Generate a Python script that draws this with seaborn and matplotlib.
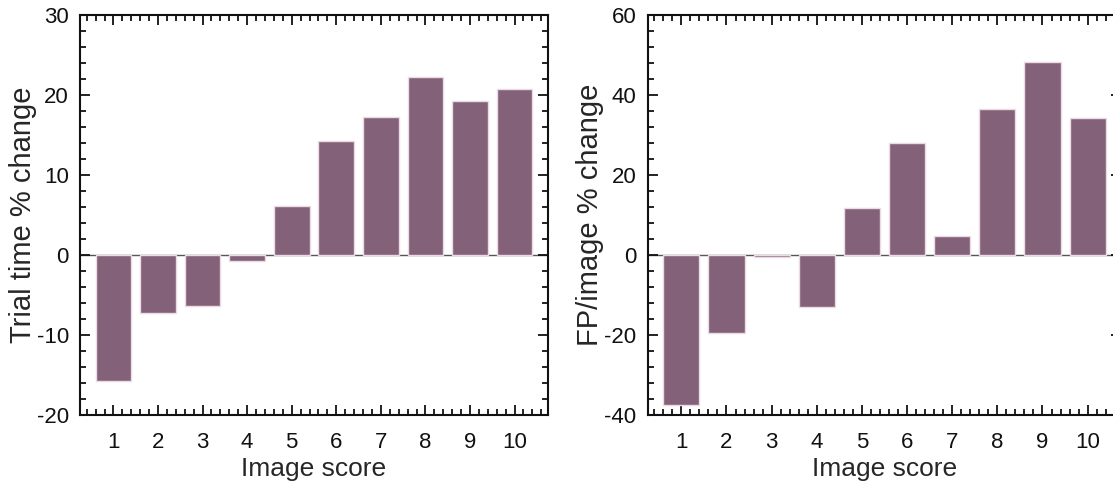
import numpy as np
import pandas as pd
import seaborn as sns
import matplotlib.pyplot as plt
from matplotlib.ticker import MultipleLocator

# image score categories and % change per panel
scores = [1, 2, 3, 4, 5, 6, 7, 8, 9, 10]
trial_time_change = [-15.8, -7.2, -6.4, -0.8, 6.1, 14.2, 17.3, 22.2, 19.2, 20.8]
fp_change = [-37.6, -19.6, -0.5, -13.0, 11.7, 28.1, 4.7, 36.6, 48.3, 34.2]

df = pd.DataFrame({"score": scores, "trial": trial_time_change, "fp": fp_change})

sns.set_style("ticks")
plt.rcParams['font.family'] = ['Liberation Sans', 'DejaVu Sans']
plt.rcParams['axes.unicode_minus'] = False

bar_color = "#836178"

fig = plt.figure(figsize=(11.13, 4.86), dpi=100)
ax1 = fig.add_axes([80 / 1113, 71 / 486, 468 / 1113, 400 / 486])
ax2 = fig.add_axes([647.5 / 1113, 71 / 486, 474 / 1113, 400 / 486])

panels = [
    (ax1, "trial", "Trial time % change", (-20, 30), 10, 2),
    (ax2, "fp", "FP/image % change", (-40, 60), 20, 4),
]

for ax, col, ylabel, ylim, major, minor in panels:
    sns.barplot(data=df, x="score", y=col, native_scale=True, color=bar_color,
                saturation=1, edgecolor="#eadbe4", linewidth=1, ax=ax)
    ax.axhline(0, color="#555555", lw=1, zorder=0.5)
    ax.set_xlim(0.25, 10.75)
    ax.set_ylim(*ylim)
    ax.set_xticks(scores)
    ax.xaxis.set_minor_locator(MultipleLocator(0.2))
    ax.yaxis.set_major_locator(MultipleLocator(major))
    ax.yaxis.set_minor_locator(MultipleLocator(minor))
    ax.tick_params(which="both", direction="in", top=True, right=True,
                   width=1.3, labelsize=16, colors="#111111")
    ax.tick_params(which="major", length=7)
    ax.tick_params(which="minor", length=4)
    ax.tick_params(axis="x", which="major", pad=12)
    ax.tick_params(axis="y", which="major", pad=8)
    for s in ax.spines.values():
        s.set_linewidth(1.5)
        s.set_color("#111111")
    ax.set_xlabel("Image score", fontsize=19, labelpad=3)
    ax.set_ylabel(ylabel, fontsize=21, labelpad=0)

fig.savefig("out.png", dpi=100)
